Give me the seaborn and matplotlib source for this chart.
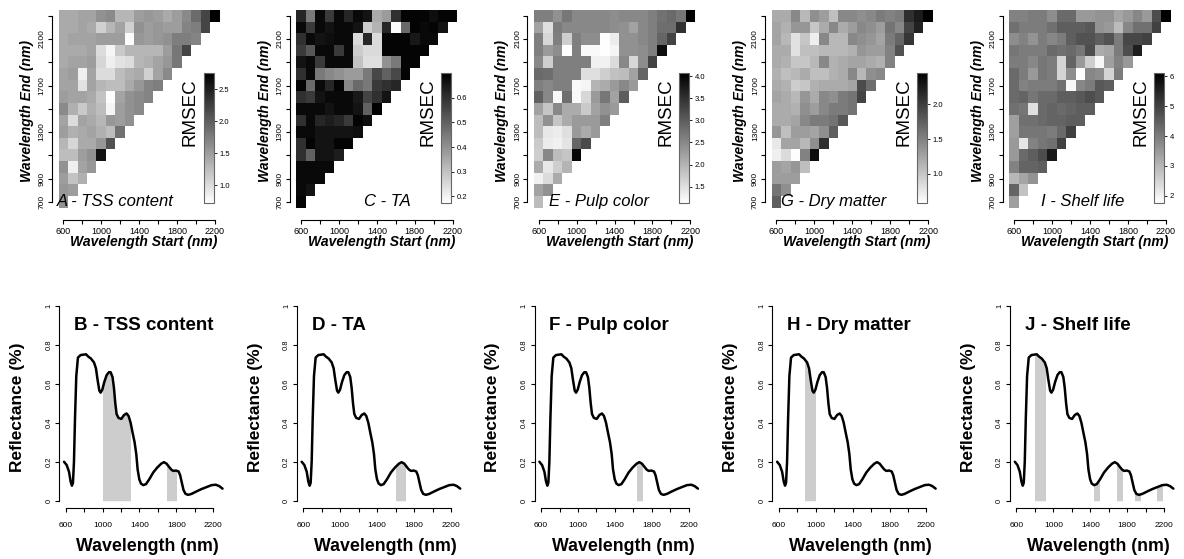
import numpy as np
import pandas as pd
import matplotlib
matplotlib.use("Agg")
import matplotlib.pyplot as plt
import seaborn as sns
from matplotlib.colors import LinearSegmentedColormap
from matplotlib.patches import Rectangle

# ==========================================================
# DATA
# ==========================================================

starts = list(range(600, 2300, 100))    # wavelength start, 600 .. 2200
ends = list(range(2300, 600, -100))     # wavelength end, 2300 .. 700 (top row first)

# RMSEC, one list per end wavelength (2300 down to 700), values for start 600, 700, ...
rmsec_tss = [
    [1.40, 1.40, 1.45, 1.45, 1.60, 1.65, 1.30, 1.30, 1.50, 1.55, 1.50, 1.40, 1.50, 1.65, 1.90, 2.20, 2.75],
    [1.40, 1.40, 1.45, 1.40, 1.10, 1.30, 1.45, 1.10, 1.60, 1.50, 1.55, 1.50, 1.50, 1.70, 1.75, 2.20],
    [1.40, 1.45, 1.45, 1.45, 1.50, 1.50, 1.50, 0.75, 1.55, 1.50, 1.55, 1.60, 1.75, 1.75, 1.70],
    [1.40, 1.40, 1.40, 1.45, 1.00, 0.80, 1.15, 1.30, 1.30, 1.30, 1.30, 1.50, 1.80, 2.20],
    [1.40, 1.45, 1.45, 1.50, 1.05, 0.85, 0.95, 1.00, 1.30, 1.35, 1.45, 1.55, 1.80],
    [1.45, 1.50, 0.85, 1.45, 1.00, 1.00, 1.25, 1.35, 1.40, 1.10, 1.45, 1.65],
    [1.45, 1.45, 0.95, 1.45, 1.30, 1.25, 1.25, 1.40, 1.55, 1.70, 1.75],
    [1.50, 1.45, 1.45, 1.40, 1.20, 0.75, 1.45, 1.60, 1.65, 1.70],
    [1.65, 1.35, 1.15, 1.35, 1.25, 0.80, 1.50, 1.60, 1.65],
    [1.45, 1.00, 1.45, 1.40, 1.30, 1.55, 1.50, 1.60],
    [1.50, 1.35, 1.40, 1.45, 1.35, 1.25, 1.85],
    [1.30, 1.05, 1.40, 1.40, 1.55, 2.10],
    [1.25, 1.25, 1.50, 1.60, 2.60],
    [1.60, 0.85, 1.45, 1.55],
    [1.50, 1.20, 1.35],
    [1.55, 1.50],
    [1.60],
]

rmsec_ta = [
    [0.62, 0.45, 0.68, 0.58, 0.68, 0.62, 0.68, 0.66, 0.35, 0.38, 0.60, 0.69, 0.69, 0.69, 0.67, 0.69, 0.69],
    [0.68, 0.58, 0.68, 0.66, 0.68, 0.68, 0.66, 0.28, 0.33, 0.62, 0.18, 0.48, 0.69, 0.68, 0.69, 0.66],
    [0.60, 0.68, 0.66, 0.67, 0.68, 0.68, 0.25, 0.62, 0.25, 0.69, 0.69, 0.69, 0.65, 0.68, 0.68],
    [0.58, 0.52, 0.68, 0.68, 0.58, 0.68, 0.28, 0.25, 0.25, 0.69, 0.69, 0.69, 0.69, 0.69],
    [0.66, 0.68, 0.58, 0.68, 0.68, 0.68, 0.30, 0.24, 0.24, 0.40, 0.45, 0.69, 0.69],
    [0.60, 0.68, 0.45, 0.42, 0.40, 0.38, 0.38, 0.45, 0.55, 0.50, 0.55, 0.69],
    [0.69, 0.48, 0.68, 0.62, 0.69, 0.42, 0.48, 0.45, 0.58, 0.60, 0.62],
    [0.60, 0.58, 0.66, 0.68, 0.68, 0.68, 0.65, 0.56, 0.60, 0.66],
    [0.68, 0.68, 0.68, 0.66, 0.68, 0.68, 0.66, 0.50, 0.70],
    [0.60, 0.68, 0.62, 0.64, 0.62, 0.58, 0.69, 0.67],
    [0.68, 0.68, 0.66, 0.66, 0.66, 0.66, 0.67],
    [0.60, 0.69, 0.66, 0.66, 0.69, 0.69],
    [0.60, 0.50, 0.66, 0.66, 0.64],
    [0.68, 0.68, 0.68, 0.68],
    [0.68, 0.68, 0.68],
    [0.68, 0.66],
    [0.69],
]

rmsec_pulp = [
    [2.60, 2.60, 2.40, 2.70, 2.50, 2.50, 2.50, 2.50, 2.45, 2.50, 2.50, 2.50, 2.60, 2.75, 2.85, 2.70, 4.07],
    [2.20, 1.50, 2.65, 2.50, 2.50, 2.50, 2.50, 2.50, 2.45, 2.40, 2.20, 2.50, 2.60, 2.80, 2.80, 3.50],
    [2.60, 1.60, 2.60, 1.70, 2.60, 2.45, 2.45, 1.15, 1.35, 2.40, 2.40, 2.50, 2.60, 2.90, 3.30],
    [2.60, 2.30, 2.45, 1.15, 2.60, 1.20, 1.20, 1.15, 1.25, 2.40, 2.40, 2.45, 2.60, 3.90],
    [2.50, 1.70, 2.60, 2.60, 2.60, 2.60, 1.30, 1.30, 1.55, 2.50, 1.60, 2.45, 3.30],
    [2.85, 2.80, 2.60, 2.60, 2.60, 1.50, 1.50, 1.70, 1.85, 1.90, 2.20, 2.90],
    [2.60, 2.50, 2.60, 2.60, 1.20, 1.25, 2.00, 2.10, 2.30, 2.50, 2.30],
    [2.95, 2.50, 1.20, 2.80, 1.20, 1.60, 2.30, 2.70, 2.20, 3.00],
    [2.20, 1.80, 2.50, 2.10, 2.10, 1.75, 2.20, 2.40, 2.30],
    [1.90, 2.40, 1.80, 2.10, 2.30, 2.30, 2.30, 2.60],
    [1.90, 1.40, 1.35, 1.50, 2.30, 2.10, 2.30],
    [1.75, 1.35, 1.30, 1.45, 2.90, 3.20],
    [1.70, 2.50, 1.90, 1.80, 4.00],
    [2.10, 1.40, 1.70, 2.00],
    [1.30, 1.55, 2.10],
    [2.20, 2.40],
    [1.90],
]

rmsec_dry = [
    [1.20, 1.20, 1.45, 1.10, 1.40, 1.30, 1.05, 1.45, 1.45, 1.40, 1.45, 1.55, 1.50, 1.55, 2.10, 2.25, 2.45],
    [1.25, 1.15, 1.35, 1.35, 1.00, 1.20, 1.45, 1.20, 1.30, 1.45, 1.40, 1.30, 1.60, 1.45, 1.95, 2.20],
    [1.25, 1.10, 0.80, 1.00, 0.70, 1.45, 1.10, 1.10, 1.45, 1.40, 1.35, 1.25, 1.55, 1.70, 2.05],
    [1.20, 1.20, 0.80, 1.05, 1.05, 1.10, 1.10, 1.10, 1.15, 1.35, 1.30, 1.30, 1.50, 1.85],
    [1.20, 1.15, 1.00, 1.00, 1.10, 1.45, 1.15, 1.20, 1.25, 1.25, 1.20, 1.15, 1.50],
    [1.15, 1.05, 1.10, 1.20, 1.05, 1.05, 1.15, 1.20, 1.45, 1.10, 1.40, 1.45],
    [1.20, 1.15, 0.95, 1.00, 1.15, 1.20, 1.20, 1.20, 1.25, 1.90, 1.65],
    [1.25, 1.20, 1.10, 1.35, 1.20, 1.45, 1.40, 1.55, 1.60, 1.95],
    [1.20, 1.20, 1.15, 1.40, 1.30, 1.45, 1.55, 1.55, 1.60],
    [1.20, 1.20, 1.25, 1.45, 1.55, 1.55, 1.60, 1.80],
    [1.35, 1.05, 1.30, 1.30, 1.25, 1.40, 1.75],
    [0.75, 1.25, 1.25, 1.10, 1.40, 2.10],
    [0.70, 0.85, 0.60, 1.50, 2.35],
    [1.30, 1.25, 1.35, 1.05],
    [1.30, 1.30, 1.30],
    [1.60, 1.40],
    [1.75],
]

rmsec_shelf = [
    [3.9, 3.9, 4.0, 4.0, 3.7, 4.3, 4.3, 3.5, 3.5, 3.6, 3.6, 3.3, 3.5, 3.8, 3.5, 4.8, 6.1],
    [4.2, 4.0, 4.0, 4.0, 4.2, 4.5, 4.5, 4.5, 4.6, 3.6, 3.5, 2.9, 3.8, 4.2, 4.2, 5.0],
    [3.7, 3.9, 3.6, 4.0, 3.8, 4.0, 4.5, 4.7, 4.7, 4.5, 4.7, 4.0, 4.9, 4.9, 5.0],
    [4.1, 4.0, 4.0, 4.0, 4.3, 4.2, 4.3, 4.1, 4.8, 3.2, 3.3, 4.0, 4.8, 5.6],
    [4.0, 4.0, 3.8, 4.1, 4.0, 2.5, 4.4, 3.5, 2.6, 1.9, 3.4, 3.9, 3.5],
    [4.3, 4.0, 3.5, 4.1, 4.0, 2.5, 3.7, 1.8, 3.8, 3.7, 2.5, 4.0],
    [4.3, 3.9, 4.0, 4.0, 4.0, 4.2, 1.9, 3.8, 4.0, 4.6, 4.5],
    [4.3, 4.4, 4.1, 4.3, 4.3, 4.5, 4.5, 4.6, 4.8, 4.6],
    [4.2, 4.1, 2.3, 4.3, 4.4, 4.3, 4.4, 4.5, 4.5],
    [3.4, 4.2, 4.2, 4.3, 4.4, 4.4, 4.5, 4.5],
    [3.4, 4.1, 4.1, 4.1, 4.0, 4.3, 5.0],
    [3.5, 2.2, 3.9, 4.1, 4.2, 5.0],
    [3.5, 4.3, 4.5, 4.8, 5.7],
    [3.9, 4.4, 4.4, 4.5],
    [3.0, 3.3, 3.6],
    [4.4, 2.8],
    [3.4],
]

rmsec_all = [rmsec_tss, rmsec_ta, rmsec_pulp, rmsec_dry, rmsec_shelf]
rmsec_min = [0.72, 0.173, 1.13, 0.58, 1.76]
rmsec_max = [2.75, 0.70, 4.07, 2.45, 6.11]
cbar_ticks = [
    [1.0, 1.5, 2.0, 2.5],
    [0.2, 0.3, 0.4, 0.5, 0.6],
    [1.5, 2.0, 2.5, 3.0, 3.5, 4.0],
    [1.0, 1.5, 2.0],
    [2, 3, 4, 5, 6],
]
cbar_labels = [
    ["1.0", "1.5", "2.0", "2.5"],
    ["0.2", "0.3", "0.4", "0.5", "0.6"],
    ["1.5", "2.0", "2.5", "3.0", "3.5", "4.0"],
    ["1.0", "1.5", "2.0"],
    ["2", "3", "4", "5", "6"],
]

titles_top = ["A - TSS content", "C - TA", "E - Pulp color", "G - Dry matter", "I - Shelf life"]
titles_bottom = ["B - TSS content", "D - TA", "F - Pulp color", "H - Dry matter", "J - Shelf life"]

# mean reflectance spectrum
wavelength = [582, 611, 636, 654, 668, 679, 690, 701, 715, 733,
              762, 791, 820, 845, 874, 907, 928, 946, 965, 979,
              997, 1019, 1044, 1069, 1087, 1108, 1123, 1138, 1152, 1173,
              1203, 1232, 1260, 1282, 1304, 1325, 1347, 1365, 1380, 1398,
              1416, 1441, 1470, 1506, 1549, 1592, 1635, 1665, 1694, 1718,
              1744, 1766, 1795, 1824, 1841, 1860, 1877, 1899, 1928, 1964,
              2019, 2073, 2127, 2181, 2228, 2264, 2300]
reflectance = [0.200, 0.183, 0.149, 0.098, 0.077, 0.092, 0.200, 0.420, 0.640, 0.735,
               0.748, 0.750, 0.752, 0.740, 0.730, 0.710, 0.680, 0.620, 0.565, 0.555,
               0.570, 0.610, 0.645, 0.660, 0.660, 0.635, 0.580, 0.500, 0.445, 0.425,
               0.420, 0.440, 0.448, 0.435, 0.400, 0.350, 0.300, 0.240, 0.160, 0.110,
               0.088, 0.080, 0.085, 0.110, 0.145, 0.170, 0.190, 0.198, 0.190, 0.175,
               0.160, 0.153, 0.155, 0.150, 0.130, 0.090, 0.055, 0.035, 0.030, 0.035,
               0.048, 0.060, 0.070, 0.080, 0.082, 0.075, 0.062]

# selected spectral bands (start, end) shaded under the curve
bands = [
    [(1000, 1300), (1700, 1800)],
    [(1600, 1700)],
    [(1640, 1695)],
    [(883, 990)],
    [(803, 905), (1435, 1490), (1685, 1740), (1880, 1940), (2120, 2182)],
]

# ==========================================================
# FIGURE
# ==========================================================

sns.set_style("ticks")
plt.rcParams["font.family"] = ["Liberation Sans", "DejaVu Sans"]
plt.rcParams["axes.edgecolor"] = "black"
plt.rcParams["text.color"] = "black"
plt.rcParams["axes.labelcolor"] = "black"
plt.rcParams["xtick.color"] = "black"
plt.rcParams["ytick.color"] = "black"

W, H = 1184, 559
fig = plt.figure(figsize=(W / 100, H / 100), dpi=100)
cmap = LinearSegmentedColormap.from_list("white_black", ["white", "black"])
step = 237.7


def rect(x0, y0, x1, y1):
    return [x0 / W, 1 - y1 / H, (x1 - x0) / W, (y1 - y0) / H]


def col_pos(w):
    return (w - 600) / 100 + 0.5


def row_pos(w):
    return (2300 - w) / 100 + 0.5


tick_wl = list(range(600, 2201, 200))
tick_lab = ["600", "", "1000", "", "1400", "", "1800", "", "2200"]
ytick_wl = list(range(700, 2301, 200))
ytick_lab = ["700", "900", "", "1300", "", "1700", "", "2100", ""]

for i in range(5):
    ox = i * step

    # ---------------- heatmap ----------------
    mat = np.full((len(ends), len(starts)), np.nan)
    for k, row in enumerate(rmsec_all[i]):
        mat[k, :len(row)] = row
    df = pd.DataFrame(mat, index=ends, columns=starts)

    ax = fig.add_axes(rect(ox + 52.0, 8.8, ox + 220.7, 220.0))
    cax = fig.add_axes(rect(ox + 203.5, 73, ox + 213.5, 203))
    sns.heatmap(df, mask=df.isna(), cmap=cmap, vmin=rmsec_min[i], vmax=rmsec_max[i],
                ax=ax, cbar_ax=cax, cbar_kws={"ticks": cbar_ticks[i]})

    ax.set_xlim(col_pos(481), col_pos(2260))
    ax.set_ylim(row_pos(543), row_pos(2360))
    ax.set_xticks([col_pos(w) for w in tick_wl])
    ax.set_xticklabels(tick_lab, rotation=0, fontsize=6.5)
    ax.set_yticks([row_pos(w) for w in ytick_wl])
    ax.set_yticklabels(ytick_lab, rotation=90, va="center", fontsize=6)
    ax.tick_params(axis="both", length=3, width=0.8, color="black", pad=1.5,
                   bottom=True, left=True)
    ax.tick_params(axis="x", pad=2)
    for s in ["left", "bottom"]:
        ax.spines[s].set_visible(True)
        ax.spines[s].set_linewidth(0.8)
        ax.spines[s].set_color("black")
    ax.spines["left"].set_bounds(row_pos(700), row_pos(2300))
    ax.spines["bottom"].set_bounds(col_pos(600), col_pos(2200))

    ax.set_xlabel("Wavelength Start (nm)", fontsize=10, fontweight="bold", fontstyle="italic")
    ax.xaxis.set_label_coords(0.545, -0.072)
    ax.set_ylabel("Wavelength End (nm)", fontsize=10, fontweight="bold", fontstyle="italic")
    ax.yaxis.set_label_coords(-0.107, 0.516)

    ax.text(col_pos(1760), row_pos(700), titles_top[i], ha="right", va="center",
            fontsize=12, fontstyle="italic")

    cb = ax.collections[0].colorbar
    cb.outline.set_linewidth(0.8)
    cb.outline.set_edgecolor("#666666")
    cb.set_ticklabels(cbar_labels[i])
    cax.tick_params(labelsize=5.5, length=2.5, width=0.6, pad=1.5)
    cax.text(-1.3, 0.70, "RMSEC", rotation=90, ha="center", va="center",
             fontsize=13.5, transform=cax.transAxes)

    # ---------------- spectrum ----------------
    bx = fig.add_axes(rect(ox + 59.3, 298.2, ox + 229.0, 508.3))
    for a, b in bands[i]:
        poly = bx.fill_between(wavelength, 0, reflectance, color="#CDCDCD", lw=0, zorder=1)
        poly.set_clip_path(Rectangle((a, -1), b - a, 3, transform=bx.transData))
    sns.lineplot(x=wavelength, y=reflectance, ax=bx, color="black", lw=1.8,
                 solid_capstyle="round", zorder=2)

    bx.set_xlim(531, 2370)
    bx.set_ylim(-0.039, 1.04)
    bx.set_xticks(tick_wl)
    bx.set_xticklabels(tick_lab, fontsize=6)
    bx.set_yticks([0, 0.2, 0.4, 0.6, 0.8, 1])
    bx.set_yticklabels(["0", "0.2", "0.4", "0.6", "0.8", "1"], rotation=90, va="center", fontsize=5.5)
    bx.tick_params(axis="x", length=3, width=0.8, color="black", pad=7)
    bx.tick_params(axis="y", length=3, width=0.8, color="black", pad=2)
    for s in ["top", "right"]:
        bx.spines[s].set_visible(False)
    for s in ["left", "bottom"]:
        bx.spines[s].set_linewidth(0.8)
        bx.spines[s].set_color("black")
    bx.spines["left"].set_bounds(0, 1)
    bx.spines["bottom"].set_bounds(600, 2200)

    bx.set_xlabel("Wavelength (nm)", fontsize=12.8, fontweight="bold")
    bx.xaxis.set_label_coords(0.52, -0.142)
    bx.set_ylabel("Reflectance (%)", fontsize=12.5, fontweight="bold")
    bx.yaxis.set_label_coords(-0.202, 0.48)

    bx.text(690, 0.90, titles_bottom[i], ha="left", va="center",
            fontsize=13.5, fontweight="bold")

fig.savefig("out.png", dpi=100)
